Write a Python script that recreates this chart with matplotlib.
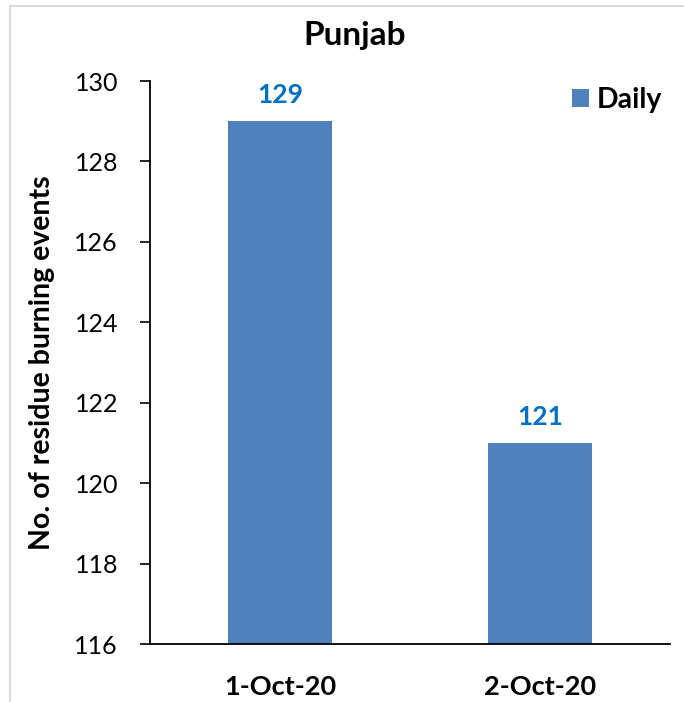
import matplotlib.pyplot as plt
from matplotlib.patches import Rectangle

plt.rcParams['font.family'] = ['Lato', 'DejaVu Sans']

dates = ['1-Oct-20', '2-Oct-20']
daily = [129, 121]
y_ticks = [116, 118, 120, 122, 124, 126, 128, 130]

fig = plt.figure(figsize=(6.84, 7.02), dpi=100)
ax = fig.add_axes([0.2193, 0.0826, 0.7602, 0.802])

# light grey chart-area border (cut off on right/bottom like the source)
fig.patches.append(Rectangle((10 / 684, -0.01), 1.0, 1 - 6 / 702 + 0.01,
                             transform=fig.transFigure, fill=False,
                             edgecolor='#d9d9d9', linewidth=1.5))

x = range(len(dates))
bars = ax.bar(x, daily, width=0.4, color='#4F81BD', label='Daily')
ax.set_xlim(-0.5, 1.5)
ax.set_ylim(116, 130)
ax.set_yticks(y_ticks)
ax.set_xticks(list(x))
ax.set_xticklabels(dates, fontsize=19.5, fontweight='bold')
ax.tick_params(axis='x', length=0, pad=22)
ax.tick_params(axis='y', direction='out', length=7, width=1.2, labelsize=18, pad=16)

for s in ['top', 'right']:
    ax.spines[s].set_visible(False)
ax.spines['left'].set_linewidth(1.3)
ax.spines['bottom'].set_linewidth(1.3)

for xi, v in zip(x, daily):
    ax.text(xi, v + 0.35, str(v), ha='center', va='bottom', color='#0070C0',
            fontsize=19, fontweight='bold')

ax.set_ylabel('No. of residue burning events', fontsize=20.5, fontweight='bold', labelpad=14)
fig.text(355 / 684, 1 - 36 / 702, 'Punjab', ha='center', va='center', fontsize=24, fontweight='bold')

ax.legend(loc='upper right', bbox_to_anchor=(1.035, 1.035), frameon=False,
          prop={'weight': 'bold', 'size': 20.5}, handlelength=0.6, handleheight=0.6, handletextpad=0.3)

fig.savefig('out.png', dpi=100)
